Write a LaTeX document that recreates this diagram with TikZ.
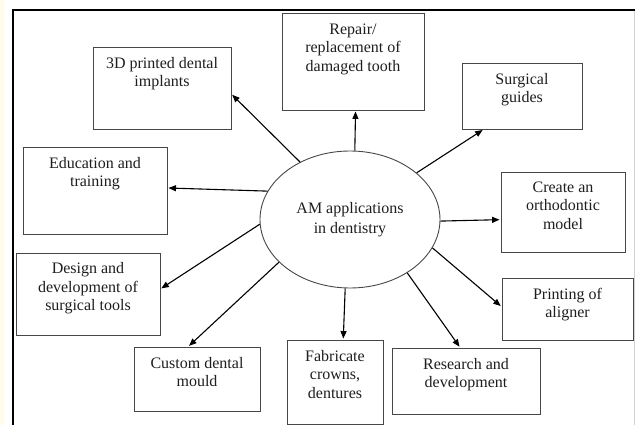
\documentclass[tikz,border=0pt]{standalone}
\usepackage{fontspec}
\setmainfont{Liberation Serif}
\usetikzlibrary{shapes.geometric,arrows.meta,calc}
\definecolor{cream}{HTML}{FFFCEA}
\definecolor{boxline}{HTML}{474747}
\definecolor{txt}{HTML}{1E1E1E}
\begin{document}
\begin{tikzpicture}[x=1pt,y=-1pt,
  box/.style={draw=boxline, line width=0.9pt, inner sep=0pt},
  lbl/.style={anchor=north, align=center, inner sep=0pt, text=txt,
              font=\fontsize{16}{18.5}\selectfont},
  arr/.style={-{Triangle[length=7.5pt,width=6pt]}, line width=1.1pt, black, shorten >=1pt}
]
\useasboundingbox (0,0) rectangle (635,425);
\fill[white] (0,0) rectangle (635,425);
\fill[cream] (0,0) rectangle (4,425);
% frame
\draw[line width=2.4pt] (13,425) -- (13,10) -- (635,10);
\draw[gray!35, line width=0.7pt] (634.3,11.5) -- (634.3,425);

% centre
\node[ellipse, draw=boxline, line width=0.9pt, minimum width=180pt, minimum height=137pt,
      inner sep=0pt, align=center, text=txt, font=\fontsize{16}{20}\selectfont]
      (c) at (350,219.5) {AM applications\\in dentistry};

% boxes
\node[box, minimum width=138pt, minimum height=82pt] (impl) at (162,88) {};
\node[box, minimum width=144pt, minimum height=87pt] (edu) at (95,190.5) {};
\node[box, minimum width=142pt, minimum height=97pt] (rep) at (353,61.5) {};
\node[box, minimum width=120pt, minimum height=66pt] (surg) at (522,96) {};
\node[box, minimum width=124pt, minimum height=80pt] (ortho) at (563,212) {};
\node[box, minimum width=144pt, minimum height=82pt] (design) at (88,294) {};
\node[box, minimum width=126pt, minimum height=64pt] (mould) at (197,379) {};
\node[box, minimum width=96pt, minimum height=84pt] (fab) at (335,382) {};
\node[box, minimum width=148pt, minimum height=66pt] (res) at (466,381) {};
\node[box, minimum width=131pt, minimum height=62pt] (print) at (567.5,309) {};

% labels
\node[lbl] (implt) at ($(impl.north)+(0,10.5)$) {3D printed dental\\implants};
\node[lbl] (edut) at ($(edu.north)+(0,10.5)$) {Education and\\training};
\node[lbl] (rept) at ($(rep.north)+(0,11)$) {Repair/\\replacement of\\damaged tooth};
\node[lbl] (surgt) at ($(surg.north)+(0,10.5)$) {Surgical\\guides};
\node[lbl] (orthot) at ($(ortho.north)+(0,10)$) {Create an\\orthodontic\\model};
\node[lbl] (designt) at ($(design.north)+(0,10)$) {Design and\\development of\\surgical tools};
\node[lbl] (mouldt) at ($(mould.north)+(0,10.5)$) {Custom dental\\mould};
\node[lbl] (fabt) at ($(fab.north)+(0,10.5)$) {Fabricate\\crowns,\\dentures};
\node[lbl] (rest) at ($(res.north)+(0,10.5)$) {Research and\\development};
\node[lbl] (printt) at ($(print.north)+(0,10)$) {Printing of\\aligner};

% arrows
\draw[arr] (c.131.5) -- (impl.-5);
\draw[arr] (c.161.5) -- (edu.2.8);
\draw[arr] (c.86) -- (rep.-87.6);
\draw[arr] (c.35) -- (surg.-139.6);
\draw[arr] (c.-1) -- (ortho.-173);
\draw[arr] (c.-19.2) -- (print.178.3);
\draw[arr] (c.-43.7) -- (res.100.3);
\draw[arr] (c.-94.2) -- (fab.79.2);
\draw[arr] (c.-149.2) -- (mould.105.7);
\draw[arr] (c.-177.8) -- (design.4);
\end{tikzpicture}
\end{document}
